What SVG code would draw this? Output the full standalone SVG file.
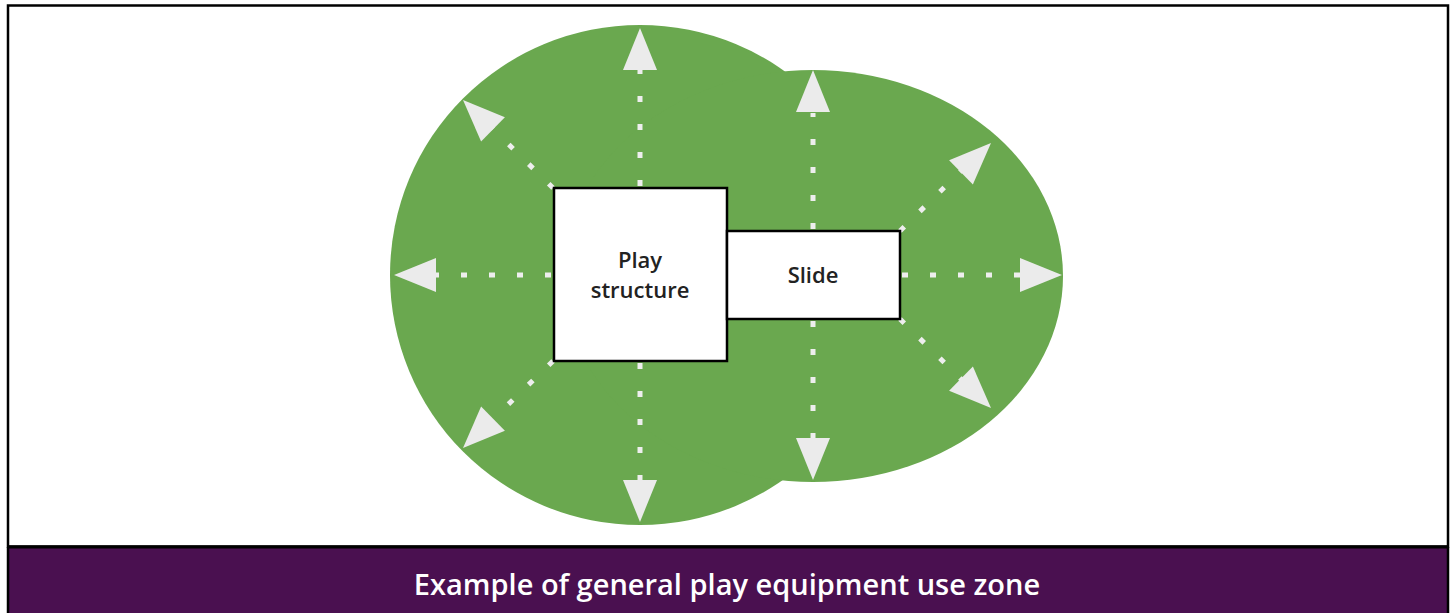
<svg xmlns="http://www.w3.org/2000/svg" width="1453" height="613" viewBox="0 0 1453 613">
  <defs>
    <style>
      .zone { fill: #6aa84f; }
      .box { fill: #ffffff; stroke: #000000; stroke-width: 2.5; }
      .label { font-family: "Open Sans", "Liberation Sans", sans-serif; font-weight: 600; font-size: 22px; fill: #222222; text-anchor: middle; }
      .caption { font-family: "Open Sans", "Liberation Sans", sans-serif; font-weight: 600; font-size: 29px; fill: #ffffff; text-anchor: middle; }
      .dots { stroke: #eeeeee; stroke-width: 5; stroke-dasharray: 6 22; fill: none; }
      .head { fill: #ebebeb; }
    </style>
    <!-- arrowhead pointing along +x, tip at origin -->
    <polygon id="tip" class="head" points="0,0 -42,-17 -42,17"/>
  </defs>

  <!-- frame -->
  <rect x="0" y="0" width="1453" height="613" fill="#ffffff"/>
  <rect x="8" y="5.5" width="1440" height="541" fill="#ffffff" stroke="#000000" stroke-width="2.5"/>
  <rect x="8" y="547" width="1440" height="66" fill="#4a1050"/>
  <line x1="8" y1="547" x2="1448" y2="547" stroke="#000000" stroke-width="3"/>
  <line x1="8" y1="547" x2="8" y2="613" stroke="#000000" stroke-width="2.5"/>
  <line x1="1448" y1="547" x2="1448" y2="613" stroke="#000000" stroke-width="2.5"/>

  <!-- use zone -->
  <g id="use-zone">
    <circle class="zone" cx="640" cy="275" r="250"/>
    <ellipse class="zone" cx="813" cy="276" rx="250" ry="206"/>
  </g>

  <!-- connectors -->
  <g id="connectors">
    <!-- play structure -->
    <line class="dots" x1="640" y1="186" x2="640" y2="70"/>
    <line class="dots" x1="640" y1="363" x2="640" y2="480"/>
    <line class="dots" x1="551" y1="275" x2="436" y2="275"/>
    <line class="dots" x1="553" y1="188" x2="490" y2="126"/>
    <line class="dots" x1="553" y1="361" x2="490" y2="422"/>
    <use href="#tip" transform="translate(640,28) rotate(-90)"/>
    <use href="#tip" transform="translate(640,522) rotate(90)"/>
    <use href="#tip" transform="translate(394,275) rotate(180)"/>
    <use href="#tip" transform="translate(463,100) rotate(-135.6)"/>
    <use href="#tip" transform="translate(463,448) rotate(135.6)"/>
    <!-- slide -->
    <line class="dots" x1="813" y1="229" x2="813" y2="113"/>
    <line class="dots" x1="813" y1="321" x2="813" y2="438"/>
    <line class="dots" x1="902" y1="275" x2="1020" y2="275"/>
    <line class="dots" x1="900" y1="231" x2="962" y2="170"/>
    <line class="dots" x1="900" y1="319" x2="962" y2="380"/>
    <use href="#tip" transform="translate(813,70) rotate(-90)"/>
    <use href="#tip" transform="translate(813,480) rotate(90)"/>
    <use href="#tip" transform="translate(1062,275)"/>
    <use href="#tip" transform="translate(991,143) rotate(-44.4)"/>
    <use href="#tip" transform="translate(991,408) rotate(44.4)"/>
  </g>

  <!-- equipment -->
  <g id="play-structure">
    <rect class="box" x="554" y="188" width="173" height="173"/>
    <text class="label" x="640" y="268">Play</text>
    <text class="label" x="640" y="298">structure</text>
  </g>
  <g id="slide">
    <rect class="box" x="727" y="231" width="173" height="88"/>
    <text class="label" x="813" y="283">Slide</text>
  </g>

  <g id="caption">
    <text class="caption" x="727" y="595">Example of general play equipment use zone</text>
  </g>
</svg>
